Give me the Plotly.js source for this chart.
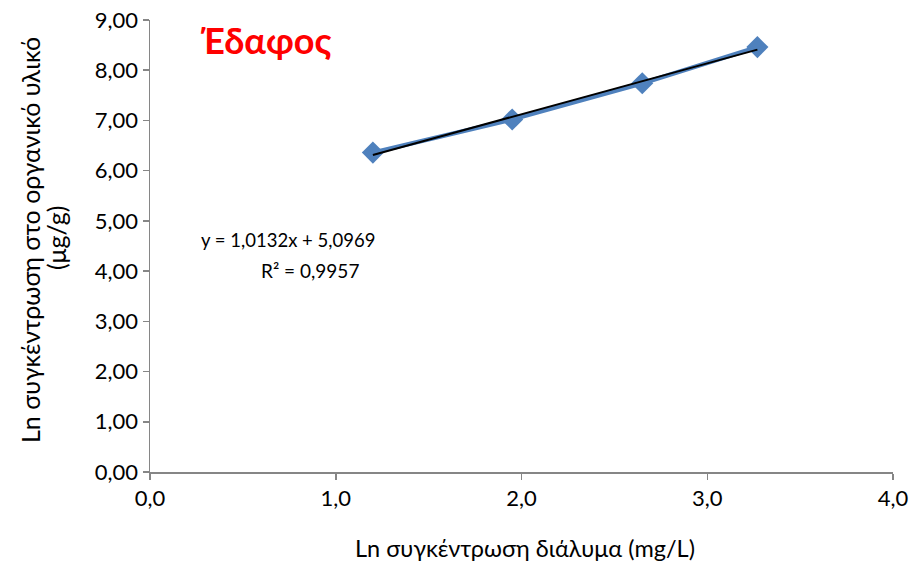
<!DOCTYPE html>
<html><head><meta charset="utf-8">
<script src="https://cdn.plot.ly/plotly-3.0.1.min.js"></script>
<style>html,body{margin:0;padding:0;background:#fff;}#chart{width:916px;height:563px;}</style>
</head><body><div id="chart"></div>
<script>
const xValues = [1.20, 1.95, 2.65, 3.27];
const yValues = [6.36, 7.02, 7.74, 8.46];
const slope = 1.0132;
const intercept = 5.0969;
const rSquared = 0.9957;
const xTickVals = [0, 1, 2, 3, 4];
const xTickText = ["0,0", "1,0", "2,0", "3,0", "4,0"];
const yTickVals = [0,1,2,3,4,5,6,7,8,9];
const yTickText = ["0,00","1,00","2,00","3,00","4,00","5,00","6,00","7,00","8,00","9,00"];
const titleText = "Έδαφος";
const xTitle = "Ln συγκέντρωση διάλυμα (mg/L)";
const yTitleLine1 = "Ln συγκέντρωση στο οργανικό υλικό";
const yTitleLine2 = "(μg/g)";

const fmt = v => v.toFixed(4).replace('.', ',');
const trendX = [Math.min(...xValues), Math.max(...xValues)];
const trendY = trendX.map(x => slope * x + intercept);

const font = "Lato, 'Noto Sans', sans-serif";
const W = 916, H = 563, L = 150, R = 23, T = 20, B = 91;
const px = x => (x - L) / (W - L - R);
const py = y => (H - B - y) / (H - T - B);

const data = [
  {x: xValues, y: yValues, type: 'scatter', mode: 'lines+markers',
   line: {color: '#4F81BD', width: 4.5},
   marker: {symbol: 'diamond', size: 17, color: '#4F81BD'}, hoverinfo: 'none'},
  {x: trendX, y: trendY, type: 'scatter', mode: 'lines',
   line: {color: '#000000', width: 2}, hoverinfo: 'none'}
];
const layout = {
  width: W, height: H,
  margin: {l: L, r: R, t: T, b: B},
  paper_bgcolor: '#fff', plot_bgcolor: '#fff',
  showlegend: false,
  font: {family: font, size: 18, color: '#000'},
  xaxis: {range: [0, 4], tickvals: xTickVals, ticktext: xTickText,
    showgrid: false, zeroline: false, showline: true, linecolor: '#868686', linewidth: 1.5,
    ticks: 'outside', ticklen: 6, tickcolor: '#868686', tickwidth: 1.5,
    tickfont: {family: font, size: 22, color: '#000'}},
  yaxis: {range: [0, 9], tickvals: yTickVals, ticktext: yTickText,
    showgrid: false, zeroline: false, showline: true, linecolor: '#868686', linewidth: 1.5,
    ticks: 'outside', ticklen: 6, tickcolor: '#868686', tickwidth: 1.5,
    tickfont: {family: font, size: 22, color: '#000'}},
  annotations: [
    {xref: 'paper', yref: 'paper', x: px(525), y: py(548), text: xTitle,
     showarrow: false, font: {family: font, size: 23.5, color: '#000'}, xanchor: 'center', yanchor: 'middle'},
    {xref: 'paper', yref: 'paper', x: px(30), y: py(240), text: yTitleLine1, textangle: -90,
     showarrow: false, font: {family: font, size: 25, color: '#000'}, xanchor: 'center', yanchor: 'middle'},
    {xref: 'paper', yref: 'paper', x: px(56), y: py(238), text: yTitleLine2, textangle: -90,
     showarrow: false, font: {family: font, size: 25, color: '#000'}, xanchor: 'center', yanchor: 'middle'},
    {xref: 'paper', yref: 'paper', x: px(265), y: py(40), text: '<b>' + titleText + '</b>',
     showarrow: false, font: {family: font, size: 36, color: '#FF0000'}, xanchor: 'center', yanchor: 'middle'},
    {xref: 'paper', yref: 'paper', x: px(288), y: py(240),
     text: 'y = ' + fmt(slope) + 'x + ' + fmt(intercept),
     showarrow: false, font: {family: font, size: 18.5, color: '#000'}, xanchor: 'center', yanchor: 'middle'},
    {xref: 'paper', yref: 'paper', x: px(310), y: py(270),
     text: 'R² = ' + fmt(rSquared),
     showarrow: false, font: {family: font, size: 19, color: '#000'}, xanchor: 'center', yanchor: 'middle'}
  ]
};
Plotly.newPlot('chart', data, layout, {displayModeBar: false, staticPlot: true});
</script></body></html>
